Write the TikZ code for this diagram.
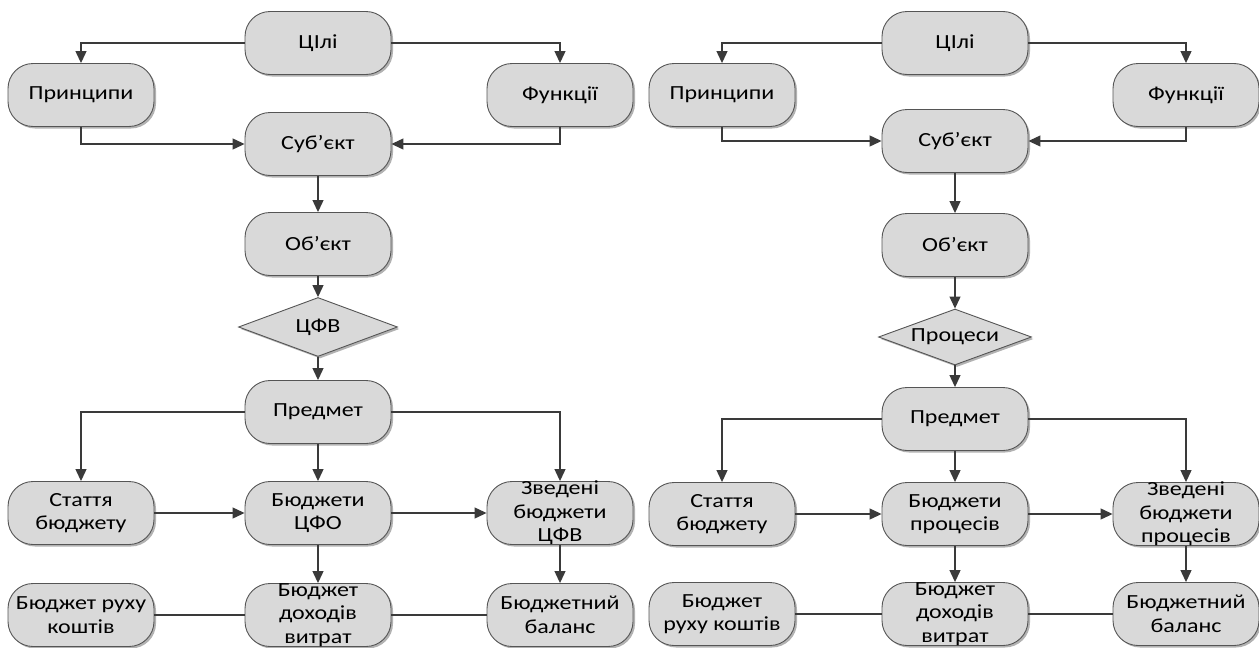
\documentclass[tikz,border=0pt]{standalone}
\usepackage{fontspec}
\setmainfont{Carlito}[FakeStretch=1.2]
\usetikzlibrary{arrows.meta,shapes.geometric,shadows}
\definecolor{boxfill}{HTML}{D9D9D9}
\definecolor{boxdraw}{HTML}{555555}
\definecolor{linecol}{HTML}{3A3A3A}
\begin{document}
\begin{tikzpicture}[x=1pt,y=-1pt,
 shad/.style={drop shadow={shadow xshift=2pt,shadow yshift=-2pt,opacity=0.3,fill=black}},
 box/.style={draw=boxdraw,line width=0.9pt,fill=boxfill,rounded corners=25pt,minimum width=146pt,minimum height=63pt,inner sep=0pt,shad},
 dia/.style={draw=boxdraw,line width=0.9pt,fill=boxfill,diamond,inner sep=0pt,shad},
 txt/.style={align=center,font=\fontsize{20}{23.5}\selectfont,inner sep=0pt,text=black},
 arr/.style={draw=linecol,line width=1.2pt,-{Triangle[length=12pt,width=11pt]}},
 conn/.style={draw=linecol,line width=1.2pt}]
\useasboundingbox (0,0) rectangle (1259,648);
% ---------- left diagram ----------
\node[box] (C1) at (318,43) {};   \node[txt] (C1t) at (C1) {ЦІлі};
\node[box] (P1) at (81,95) {};    \node[txt] (P1t) at (P1) {Принципи};
\node[box] (F1) at (560,95) {};   \node[txt] (F1t) at (F1) {Функції};
\node[box] (S1) at (318,144) {};  \node[txt] (S1t) at (S1) {Суб’єкт};
\node[box] (O1) at (318,244) {};  \node[txt] (O1t) at (O1) {Об’єкт};
\node[dia,minimum width=159pt,minimum height=59pt] (D1) at (318,327) {}; \node[txt] (D1t) at (D1) {ЦФВ};
\node[box] (PR1) at (318,412) {}; \node[txt] (PR1t) at (PR1) {Предмет};
\node[box] (A1) at (81,513) {};   \node[txt] (A1t) at (A1) {Стаття\\бюджету};
\node[box] (B1) at (318,513) {};  \node[txt] (B1t) at (B1) {Бюджети\\ЦФО};
\node[box] (Z1) at (560,513) {};  \node[txt] (Z1t) at (Z1) {Зведені\\бюджети\\ЦФВ};
\node[box] (R1) at (81,615) {};   \node[txt] (R1t) at (R1) {Бюджет руху\\коштів};
\node[box] (DV1) at (318,615) {}; \node[txt] (DV1t) at (DV1) {Бюджет\\доходів\\витрат};
\node[box] (BB1) at (560,615) {}; \node[txt] (BB1t) at (BB1) {Бюджетний\\баланс};
\draw[arr] (C1.west) -| (P1.north);
\draw[arr] (C1.east) -| (F1.north);
\draw[arr] (P1.south) |- (S1.west);
\draw[arr] (F1.south) |- (S1.east);
\draw[arr] (S1.south) -- (O1.north);
\draw[arr] (O1.south) -- (D1.north);
\draw[arr] (D1.south) -- (PR1.north);
\draw[arr] (PR1.west) -| (A1.north);
\draw[arr] (PR1.east) -| (Z1.north);
\draw[arr] (PR1.south) -- (B1.north);
\draw[arr] (A1.east) -- (B1.west);
\draw[arr] (B1.east) -- (Z1.west);
\draw[arr] (B1.south) -- (DV1.north);
\draw[arr] (Z1.south) -- (BB1.north);
\draw[conn] (R1.east) -- (DV1.west);
\draw[conn] (DV1.east) -- (BB1.west);
% ---------- right diagram ----------
\node[box] (C2) at (955,43) {};   \node[txt] (C2t) at (C2) {ЦІлі};
\node[box] (P2) at (722,95) {};   \node[txt] (P2t) at (P2) {Принципи};
\node[box] (F2) at (1186,95) {};  \node[txt] (F2t) at (F2) {Функції};
\node[box] (S2) at (955,141) {};  \node[txt] (S2t) at (S2) {Суб’єкт};
\node[box] (O2) at (955,245) {};  \node[txt] (O2t) at (O2) {Об’єкт};
\node[dia,minimum width=153pt,minimum height=56pt] (D2) at (955,337) {}; \node[txt] (D2t) at (D2) {Процеси};
\node[box] (PR2) at (955,419) {}; \node[txt] (PR2t) at (PR2) {Предмет};
\node[box] (A2) at (722,514) {};  \node[txt] (A2t) at (A2) {Стаття\\бюджету};
\node[box] (B2) at (955,514) {};  \node[txt] (B2t) at (B2) {Бюджети\\процесів};
\node[box] (Z2) at (1186,514) {}; \node[txt] (Z2t) at (Z2) {Зведені\\бюджети\\процесів};
\node[box] (R2) at (722,614) {};  \node[txt] (R2t) at (R2) {Бюджет\\руху коштів};
\node[box] (DV2) at (955,614) {}; \node[txt] (DV2t) at (DV2) {Бюджет\\доходів\\витрат};
\node[box] (BB2) at (1186,614) {};\node[txt] (BB2t) at (BB2) {Бюджетний\\баланс};
\draw[arr] (C2.west) -| (P2.north);
\draw[arr] (C2.east) -| (F2.north);
\draw[arr] (P2.south) |- (S2.west);
\draw[arr] (F2.south) |- (S2.east);
\draw[arr] (S2.south) -- (O2.north);
\draw[arr] (O2.south) -- (D2.north);
\draw[arr] (D2.south) -- (PR2.north);
\draw[arr] (PR2.west) -| (A2.north);
\draw[arr] (PR2.east) -| (Z2.north);
\draw[arr] (PR2.south) -- (B2.north);
\draw[arr] (A2.east) -- (B2.west);
\draw[arr] (B2.east) -- (Z2.west);
\draw[arr] (B2.south) -- (DV2.north);
\draw[arr] (Z2.south) -- (BB2.north);
\draw[conn] (R2.east) -- (DV2.west);
\draw[conn] (DV2.east) -- (BB2.west);
\end{tikzpicture}
\end{document}
